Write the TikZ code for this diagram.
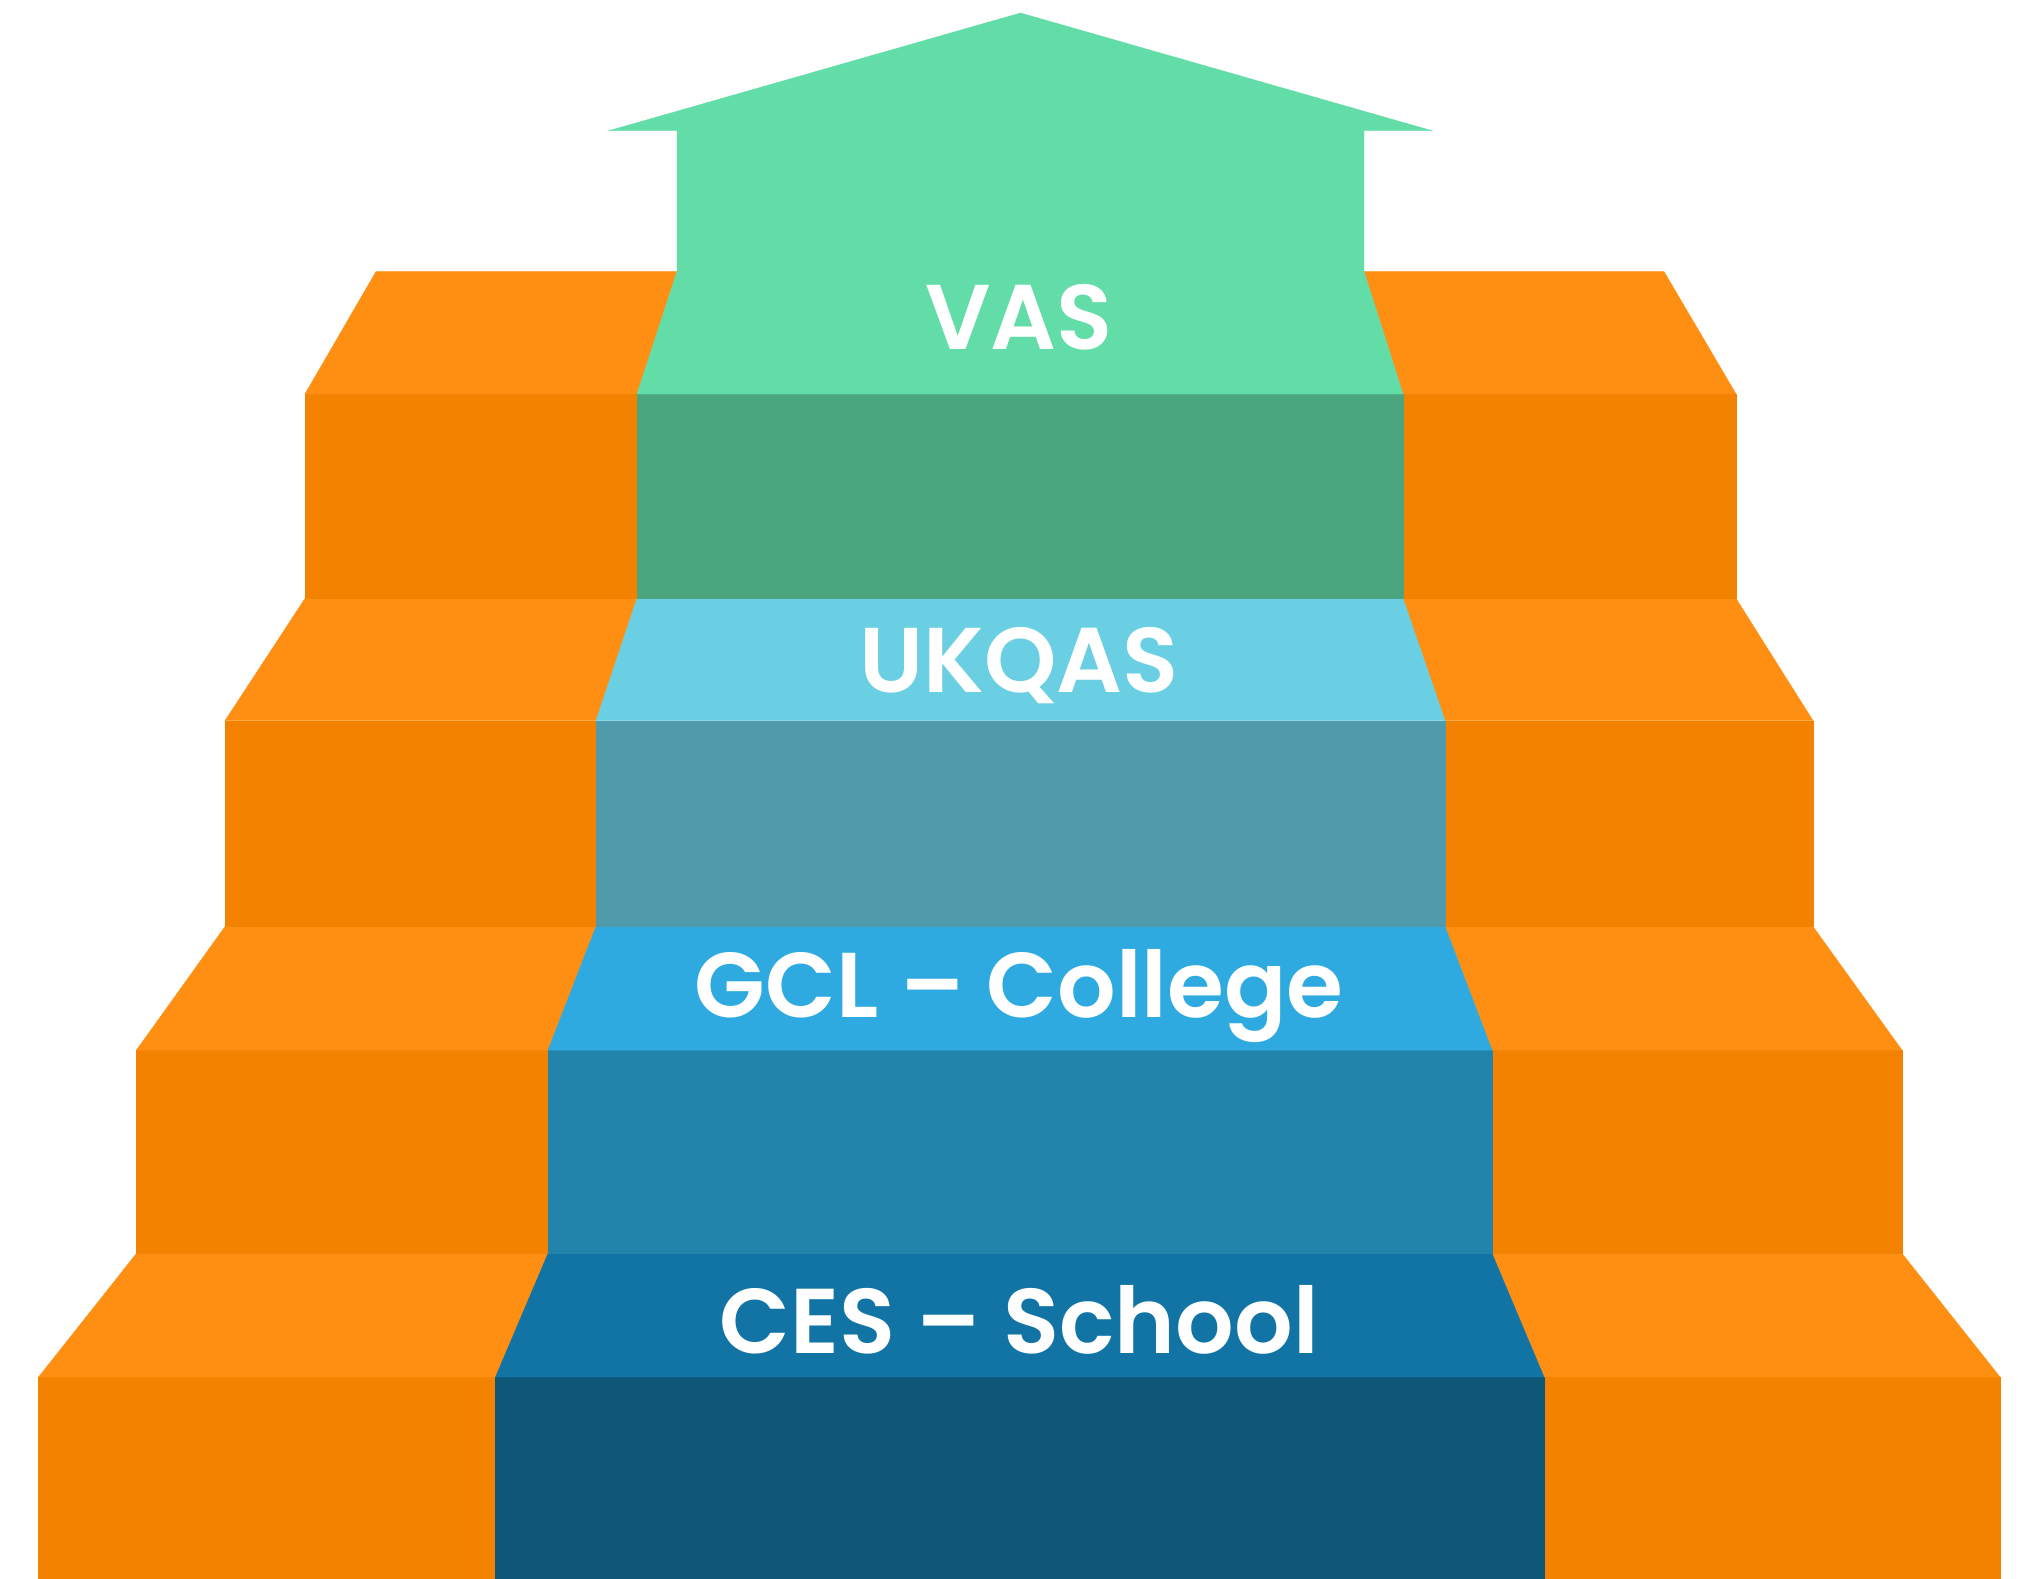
\documentclass[tikz,border=0pt]{standalone}
\usepackage{fontspec}
\setmainfont{Poppins}[BoldFont={* SemiBold}]
\definecolor{orTop}{HTML}{FF8F12}
\definecolor{orFront}{HTML}{F38200}
\definecolor{gTop}{HTML}{62DDA8}
\definecolor{gFront}{HTML}{4BA67F}
\definecolor{cTop}{HTML}{6ACFE2}
\definecolor{cFront}{HTML}{509BAB}
\definecolor{bTop}{HTML}{2FAAE0}
\definecolor{bFront}{HTML}{2283AB}
\definecolor{dTop}{HTML}{1274A5}
\definecolor{dFront}{HTML}{0E5779}
\tikzset{
  face/.style={fill=#1, draw=#1, line width=0.4pt},
  lbl/.style={text=white, font=\fontsize{92}{100}\selectfont\bfseries, anchor=base, inner sep=0pt}
}
\begin{document}
\begin{tikzpicture}[x=1pt,y=-1pt]
\useasboundingbox (0,0) rectangle (2018,1579);
% ---------- Level 1 (CES) ----------
\fill[face=orFront] (38.6,1377) rectangle (495.5,1579);
\fill[face=orFront] (1544,1377) rectangle (2000,1579);
\fill[face=dFront] (495.5,1377) rectangle (1544,1579);
\fill[face=orTop] (136.4,1253.5) -- (548,1253.5) -- (495.5,1377) -- (38.6,1377) -- cycle;
\fill[face=orTop] (1492,1253.5) -- (1902,1253.5) -- (2000,1377) -- (1544,1377) -- cycle;
\fill[face=dTop] (548,1253.5) -- (1492,1253.5) -- (1544,1377) -- (495.5,1377) -- cycle;
% ---------- Level 2 (GCL) ----------
\fill[face=orFront] (136.4,1050.2) rectangle (548,1253.5);
\fill[face=orFront] (1492,1050.2) rectangle (1902,1253.5);
\fill[face=bFront] (548,1050.2) rectangle (1492,1253.5);
\fill[face=orTop] (225,926.6) -- (596,926.6) -- (548,1050.2) -- (136.4,1050.2) -- cycle;
\fill[face=orTop] (1445,926.6) -- (1813,926.6) -- (1902,1050.2) -- (1492,1050.2) -- cycle;
\fill[face=bTop] (596,926.6) -- (1445,926.6) -- (1492,1050.2) -- (548,1050.2) -- cycle;
% ---------- Level 3 (UKQAS) ----------
\fill[face=orFront] (225,720.7) rectangle (596,926.6);
\fill[face=orFront] (1445,720.7) rectangle (1813,926.6);
\fill[face=cFront] (596,720.7) rectangle (1445,926.6);
\fill[face=orTop] (305,598.5) -- (637,598.5) -- (596,720.7) -- (225,720.7) -- cycle;
\fill[face=orTop] (1403,598.5) -- (1736,598.5) -- (1813,720.7) -- (1445,720.7) -- cycle;
\fill[face=cTop] (637,598.5) -- (1403,598.5) -- (1445,720.7) -- (596,720.7) -- cycle;
% ---------- Level 4 (VAS) ----------
\fill[face=orFront] (305,394) rectangle (637,598.5);
\fill[face=orFront] (1403,394) rectangle (1736,598.5);
\fill[face=gFront] (637,394) rectangle (1403,598.5);
\fill[face=orTop] (376,271.6) -- (677,271.6) -- (637,394) -- (305,394) -- cycle;
\fill[face=orTop] (1364,271.6) -- (1664,271.6) -- (1736,394) -- (1403,394) -- cycle;
\fill[face=gTop] (677,271.6) -- (1364,271.6) -- (1403,394) -- (637,394) -- cycle;
% ---------- Arrow ----------
\fill[face=gTop] (1020.5,13) -- (1432,130.7) -- (1364,130.7) -- (1364,272) -- (677,272) -- (677,130.7) -- (609,130.7) -- cycle;
% ---------- Labels ----------
\node[lbl] (vas) at (1019,349) {VAS};
\node[lbl] (ukqas) at (1019,692) {UKQAS};
\node[lbl] (gcl) at (1019,1017) {GCL – College};
\node[lbl] (ces) at (1019,1353) {CES – School};
\end{tikzpicture}
\end{document}
